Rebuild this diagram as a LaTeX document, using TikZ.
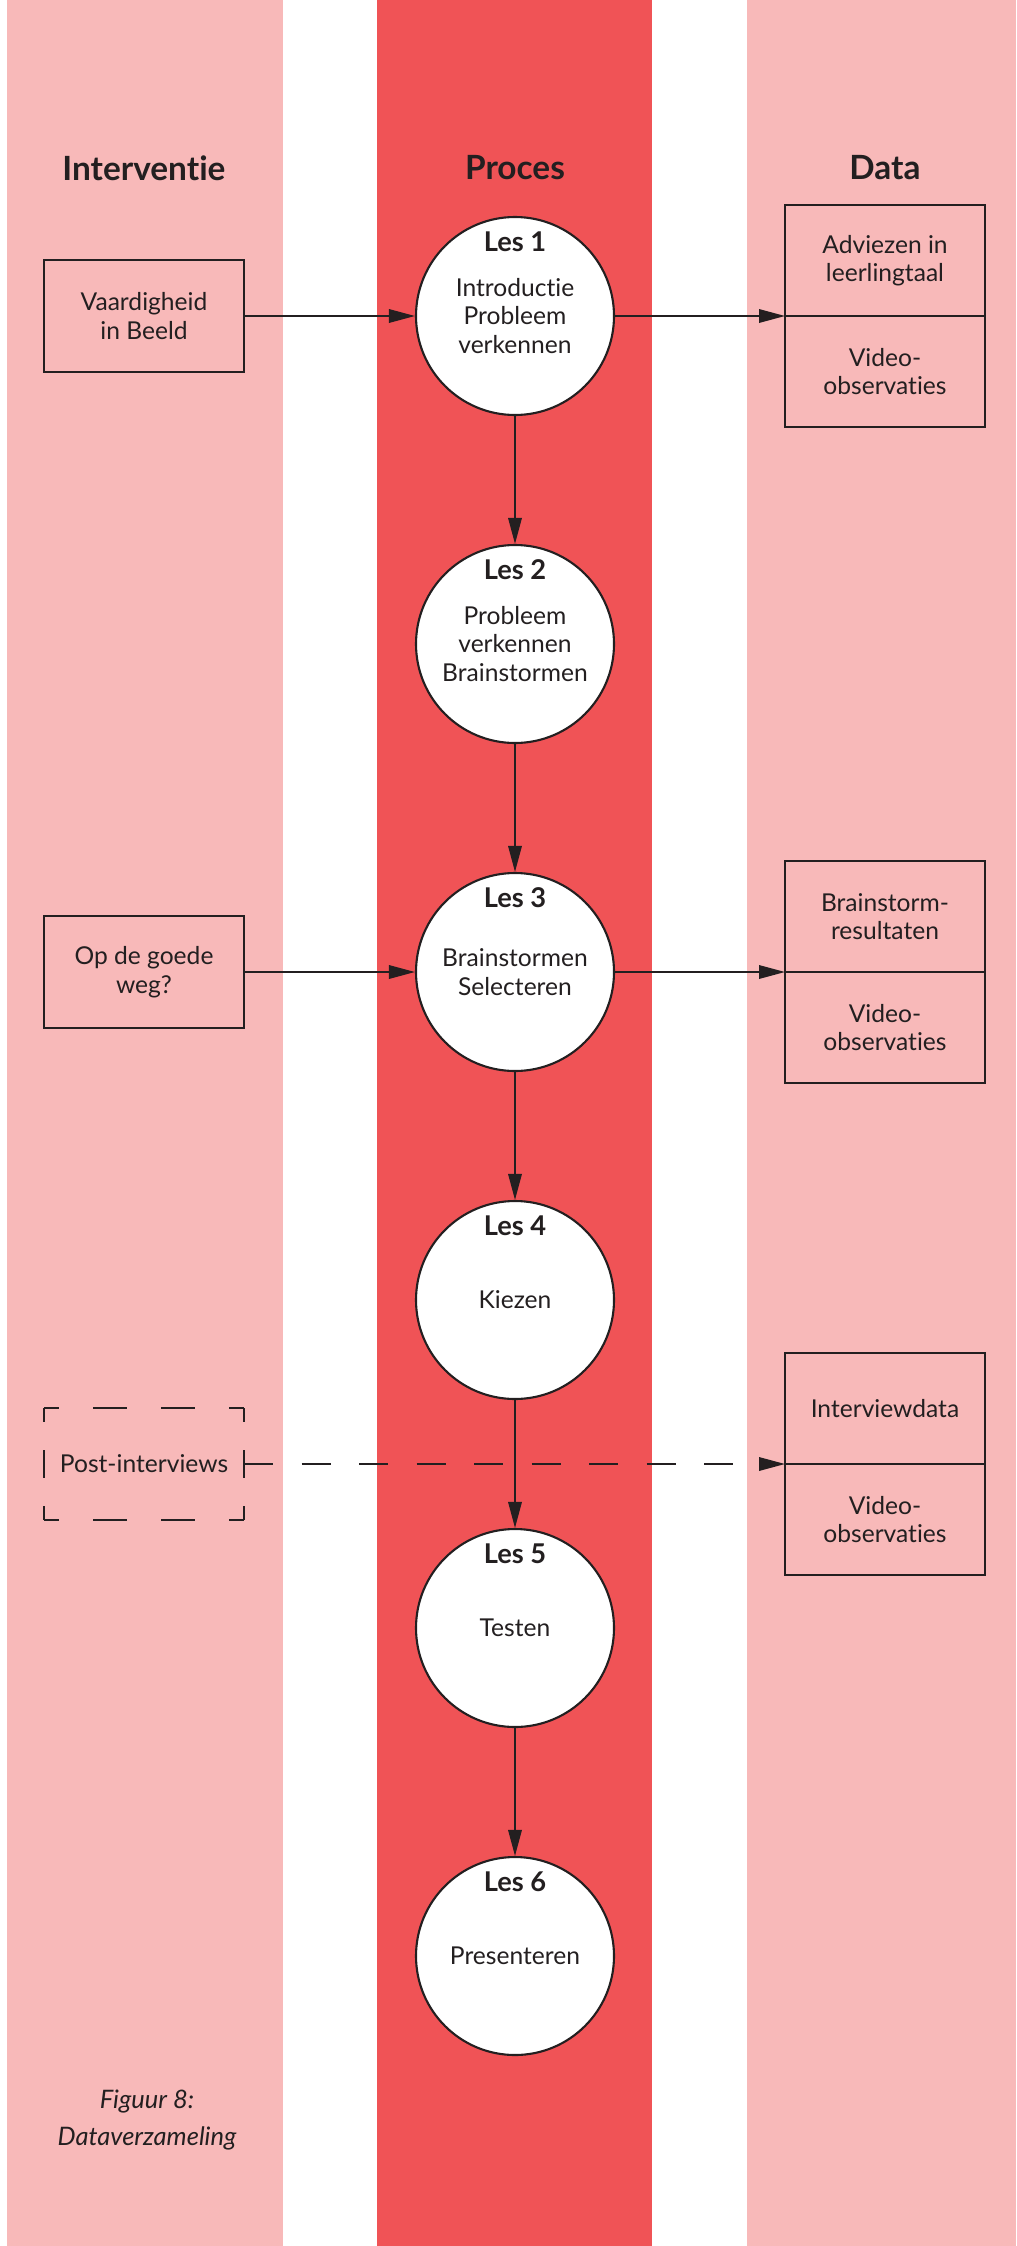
\documentclass[tikz,border=0pt]{standalone}
\usepackage{fontspec}
\setmainfont{Lato}[Ligatures=NoCommon]
\usetikzlibrary{arrows.meta}
\usetikzlibrary{positioning}
\definecolor{ink}{HTML}{231F20}
\definecolor{lanepink}{HTML}{F8B9B9}
\definecolor{lanered}{HTML}{F05356}
\tikzset{
	header/.style={text=ink, font=\fontsize{19}{22}\selectfont\bfseries},
	les/.style={circle, draw=ink, fill=white, line width=1.2pt, minimum size=3.96cm,
		inner sep=0pt, align=center, text=ink, font=\fontsize{14}{16.2}\selectfont},
	lesnr/.style={anchor=center, yshift=-0.52cm, text=ink,
		font=\fontsize{15.5}{18}\selectfont\bfseries},
	action/.style={rectangle, draw=ink, line width=1.2pt, minimum width=4cm,
		minimum height=2.24cm, outer sep=0pt, align=center, text=ink,
		font=\fontsize{14}{16.2}\selectfont},
	ghost/.style={rectangle, minimum width=4cm, minimum height=2.24cm, outer sep=0pt,
		align=center, text=ink, font=\fontsize{14}{16.2}\selectfont},
	cell/.style={rectangle, draw=ink, line width=1.2pt, minimum width=4cm,
		minimum height=2.22cm, outer sep=0pt, align=center, text=ink,
		font=\fontsize{14}{16.2}\selectfont},
	caption/.style={align=center, text=ink, font=\fontsize{14.5}{20.6}\selectfont\itshape},
	arrow/.style={draw=ink, line width=1pt, -{Triangle[length=0.52cm, width=0.27cm]}},
	dashline/.style={dash pattern=on 0.58cm off 0.57cm},
	hdash/.style={draw=ink, line width=1.1pt, dash pattern=on 0.68cm off 0.68cm, dash phase=0.38cm},
	vdash/.style={draw=ink, line width=1.1pt, dash pattern=on 0.56cm off 0.56cm, dash phase=0.28cm}
}

\begin{document}
\begin{tikzpicture}[node distance=6.56cm]

% banen
\useasboundingbox (0,0) rectangle (20.32,-44.92);
\fill[white] (0,0) rectangle (20.32,-44.92);
\fill[lanepink] (0.14,0) rectangle (5.66,-44.92);
\fill[lanered] (7.54,0) rectangle (13.04,-44.92);
\fill[lanepink] (14.94,0) rectangle (20.32,-44.92);

\node[header] (hinterventie) at (2.88,-3.36) {Interventie};
\node[header] (hproces) at (10.3,-3.36) {Proces};
\node[header] (hdata) at (17.7,-3.36) {Data};

% lessen
\node[les, label={[lesnr]north:Les 1}] (les1) at (10.3,-6.32)
	{Introductie\\Probleem\\verkennen};
\node[les, below of = les1, label={[lesnr]north:Les 2}] (les2)
	{Probleem\\verkennen\\Brainstormen};
\node[les, below of = les2, label={[lesnr]north:Les 3}] (les3)
	{Brainstormen\\Selecteren};
\node[les, below of = les3, label={[lesnr]north:Les 4}] (les4) {Kiezen};
\node[les, below of = les4, label={[lesnr]north:Les 5}] (les5) {Testen};
\node[les, below of = les5, label={[lesnr]north:Les 6}] (les6) {Presenteren};

% interventies
\node[action] (vaardigheid) at (2.88,-6.32) {Vaardigheid\\in Beeld};
\node[action] (goedeweg) at (2.88,-19.44) {Op de goede\\weg?};
\node[ghost] (postint) at (2.88,-29.28) {Post-interviews};

% data
\node[cell, anchor=south] (adviezen) at (17.7,-6.32) {Adviezen in\\leerlingtaal};
\node[cell, below=0pt of adviezen] (video1) {Video-\\observaties};
\node[cell, anchor=south] (brainres) at (17.7,-19.44) {Brainstorm-\\resultaten};
\node[cell, below=0pt of brainres] (video3) {Video-\\observaties};
\node[cell, anchor=south] (interview) at (17.7,-29.28) {Interviewdata};
\node[cell, below=0pt of interview] (video4) {Video-\\observaties};

\node[caption] (figuur) at (2.94,-42.4) {Figuur 8:\\Dataverzameling};

\draw [hdash] (postint.north west) -- (postint.north east);
\draw [hdash] (postint.south west) -- (postint.south east);
\draw [vdash] (postint.north west) -- (postint.south west);
\draw [vdash] (postint.north east) -- (postint.south east);

\draw [arrow] (vaardigheid) -- (les1);
\draw [arrow] (les1) -- (adviezen.south west);
\draw [arrow] (goedeweg) -- (les3);
\draw [arrow] (les3) -- (brainres.south west);
\draw [arrow, dashline] (postint) -- (interview.south west);

\draw [arrow] (les1) -- (les2);
\draw [arrow] (les2) -- (les3);
\draw [arrow] (les3) -- (les4);
\draw [arrow] (les4) -- (les5);
\draw [arrow] (les5) -- (les6);

\end{tikzpicture}
\end{document}
